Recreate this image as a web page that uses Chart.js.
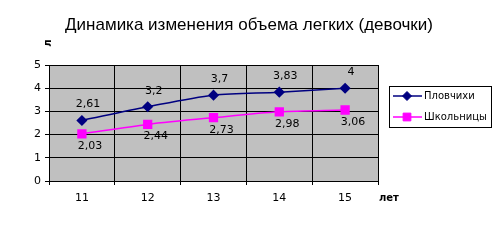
<!DOCTYPE html>
<html>
<head>
<meta charset="utf-8">
<script src="https://cdn.jsdelivr.net/npm/chart.js@4"></script>
<style>
  html, body { margin: 0; padding: 0; background: #ffffff; }
  #wrap { width: 499px; height: 242px; }
</style>
</head>
<body>
<div id="wrap"><canvas id="chart" width="499" height="242"></canvas></div>
<script>
// --- Chart data ---
const years = ['11', '12', '13', '14', '15'];
const swimmers = [2.61, 3.2, 3.7, 3.83, 4];
const schoolgirls = [2.03, 2.44, 2.73, 2.98, 3.06];
const swimmerLabels = ['2,61', '3,2', '3,7', '3,83', '4'];
const schoolLabels = ['2,03', '2,44', '2,73', '2,98', '3,06'];
const yTicks = [0, 1, 2, 3, 4, 5];

const FONT = '"DejaVu Sans", Verdana, sans-serif';

// grey plot background, title, axis captions, point labels and legend box
const decor = {
    id: 'decor',
    beforeDraw(chart) {
        const { ctx, chartArea: a } = chart;
        ctx.save();
        ctx.fillStyle = '#c0c0c0';
        ctx.fillRect(a.left, a.top, a.right - a.left, a.bottom - a.top);
        ctx.restore();
    },
    afterDraw(chart) {
        const { ctx, chartArea: a } = chart;
        ctx.save();
        ctx.fillStyle = '#000';
        ctx.textBaseline = 'middle';

        // title
        ctx.font = '17px "Liberation Sans", Arial, sans-serif';
        ctx.textAlign = 'center';
        ctx.fillText('Динамика изменения объема легких (девочки)', 249, 25);

        // y caption (rotated)
        ctx.save();
        ctx.translate(48, 43);
        ctx.rotate(-Math.PI / 2);
        ctx.font = 'bold 10px ' + FONT;
        ctx.fillText('л', 0, 0);
        ctx.restore();

        // x caption
        ctx.font = 'bold 10px ' + FONT;
        ctx.textAlign = 'left';
        ctx.fillText('лет', a.right + 1, 198);

        // point labels
        ctx.font = '11px ' + FONT;
        ctx.textAlign = 'center';
        chart.getDatasetMeta(0).data.forEach((p, i) => {
            ctx.fillText(swimmerLabels[i], p.x + 6, p.y - 16);
        });
        chart.getDatasetMeta(1).data.forEach((p, i) => {
            ctx.fillText(schoolLabels[i], p.x + 8, p.y + 12);
        });

        // legend
        const lx = 389, ly = 86, lw = 102, lh = 41;
        ctx.fillStyle = '#fff';
        ctx.fillRect(lx, ly, lw, lh);
        ctx.strokeStyle = '#000';
        ctx.lineWidth = 1;
        ctx.strokeRect(lx + 0.5, ly + 0.5, lw, lh);
        chart.data.datasets.forEach((ds, i) => {
            const y = ly + 10 + i * 21;
            ctx.strokeStyle = ds.borderColor;
            ctx.fillStyle = ds.backgroundColor;
            ctx.lineWidth = 1.5;
            ctx.beginPath();
            ctx.moveTo(lx + 4, y);
            ctx.lineTo(lx + 33, y);
            ctx.stroke();
            ctx.lineWidth = 1;
            Chart.helpers.drawPoint(ctx, {
                pointStyle: ds.pointStyle,
                radius: ds.pointRadius,
                borderWidth: 1
            }, lx + 18, y);
            ctx.fillStyle = '#000';
            ctx.textAlign = 'left';
            ctx.font = '10px ' + FONT;
            ctx.fillText(ds.label, lx + 35, y);
        });
        ctx.restore();
    }
};

new Chart(document.getElementById('chart'), {
    type: 'line',
    data: {
        labels: years,
        datasets: [{
            label: 'Пловчихи',
            data: swimmers,
            borderColor: '#000080',
            backgroundColor: '#000080',
            borderWidth: 1.5,
            pointStyle: 'rectRot',
            pointRadius: 4.5,
            tension: 0.3
        }, {
            label: 'Школьницы',
            data: schoolgirls,
            borderColor: '#ff00ff',
            backgroundColor: '#ff00ff',
            borderWidth: 1.5,
            pointStyle: 'rect',
            pointRadius: 5.5,
            tension: 0.3
        }]
    },
    options: {
        responsive: false,
        animation: false,
        layout: { padding: { left: 0, top: 65, right: 121, bottom: 0 } },
        plugins: {
            legend: { display: false },
            title: { display: false },
            tooltip: { enabled: false }
        },
        scales: {
            x: {
                offset: true,
                grid: { offset: true, color: '#000', tickLength: 4, lineWidth: 1 },
                border: { color: '#000' },
                ticks: { color: '#000', font: { family: FONT, size: 11 }, padding: 7 },
                afterFit: s => { s.height = 61; }
            },
            y: {
                min: 0,
                max: 5,
                afterBuildTicks: s => { s.ticks = yTicks.map(v => ({ value: v })); },
                grid: { color: '#000', tickLength: 4, lineWidth: 1 },
                border: { color: '#000' },
                ticks: { color: '#000', font: { family: FONT, size: 11 }, padding: 4 },
                afterFit: s => { s.width = 49; }
            }
        }
    },
    plugins: [decor]
});
</script>
</body>
</html>
